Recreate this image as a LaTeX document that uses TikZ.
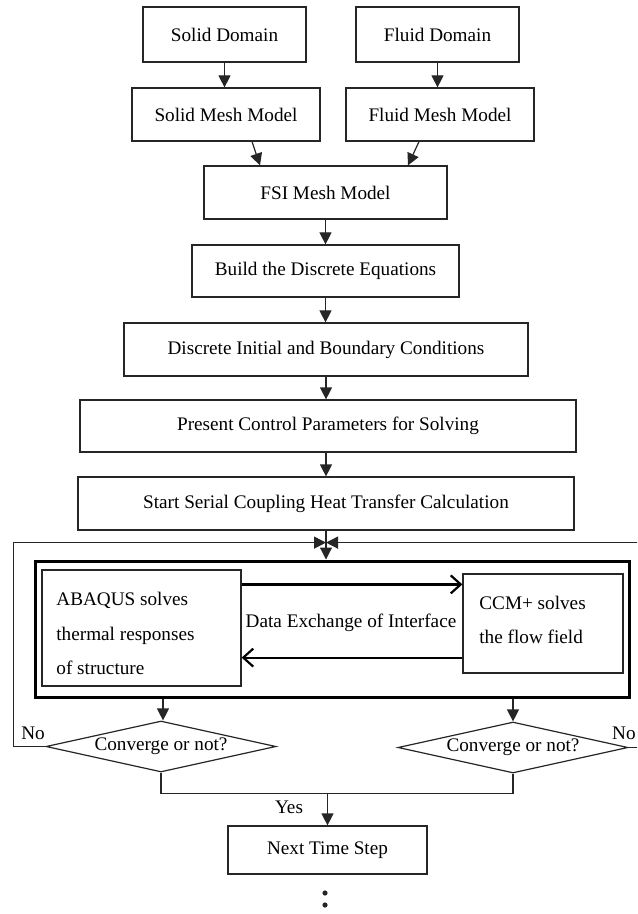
\documentclass[tikz,border=0pt]{standalone}
\usepackage{fontspec}
\setmainfont{Liberation Serif}
\usetikzlibrary{arrows.meta,shapes.geometric,calc}
\begin{document}
\begin{tikzpicture}[x=0.5pt,y=-0.5pt,
  txt/.style={font=\fontsize{9.6}{11.5}\selectfont, inner sep=0pt},
  bx/.style={txt, draw=black!85, line width=0.6pt},
  dia/.style={txt, draw=black!85, line width=0.6pt, shape=diamond, aspect=4.5,
    minimum width=115pt, minimum height=25.5pt},
  arr/.style={line width=0.6pt, draw=black!85, -{Triangle[length=6pt,width=6pt]}},
  ln/.style={line width=0.6pt, draw=black!85},
  dx/.style={line width=1.1pt, -{Straight Barb[length=5pt,width=9pt,line width=1.1pt]}}]
\clip (0,0) rectangle (637,914);
\fill[white] (0,0) rectangle (637,914);

\node[bx, minimum width=81.5pt, minimum height=27.5pt] (sd) at (224.5,34.5) {Solid Domain};
\node[bx, minimum width=81.5pt, minimum height=27.5pt] (fd) at (437.5,34.5) {Fluid Domain};
\node[bx, minimum width=94pt, minimum height=26.5pt] (sm) at (226,114.5) {Solid Mesh Model};
\node[bx, minimum width=94pt, minimum height=26.5pt] (fm) at (440,114.5) {Fluid Mesh Model};
\node[bx, minimum width=121.5pt, minimum height=26.5pt] (fsi) at (325.5,192.5) {FSI Mesh Model};
\node[bx, minimum width=133.5pt, minimum height=26pt] (bde) at (325.5,271) {Build the Discrete Equations};
\node[bx, minimum width=202pt, minimum height=26.5pt] (dib) at (326,349.5) {Discrete Initial and Boundary Conditions};
\node[bx, minimum width=248pt, minimum height=26pt] (pcp) at (328,426) {Present Control Parameters for Solving};
\node[bx, minimum width=248pt, minimum height=26.5pt] (ssc) at (326,503.5) {Start Serial Coupling Heat Transfer Calculation};

\node[draw, line width=1.5pt, minimum width=297pt, minimum height=68pt, inner sep=0pt] (cpl) at (332,629) {};
\node[bx, minimum width=99.5pt, minimum height=58pt] (abq) at (141.5,628) {};
\node[bx, minimum width=80pt, minimum height=49.5pt] (ccm) at (543,623.5) {};
\node[txt, font=\fontsize{9.6}{17.25}\selectfont, anchor=west, align=left] (abqt) at (56,633.5) {ABAQUS solves\\thermal responses\\of structure};
\node[txt, font=\fontsize{9.6}{17.25}\selectfont, anchor=west, align=left] (ccmt) at (479,620) {CCM+ solves\\the flow field};
\node[txt] (dex) at (351,623) {Data Exchange of Interface};

\node[dia] (dl) at (161,746.5) {Converge or not?};
\node[dia] (dr) at (513,747.5) {Converge or not?};
\node[bx, minimum width=99.5pt, minimum height=24pt] (nts) at (327.5,850) {Next Time Step};

\node[txt] (nol) at (33,733) {No};
\node[txt, anchor=east] (nor) at (636,733) {No};
\node[txt] (yes) at (289,807) {Yes};

% top part connectors
\draw[arr] (sd.south) -- (sd.south |- sm.north);
\draw[arr] (fd.south) -- (fd.south |- fm.north);
\draw[arr] ($(sm.south)+(26,0)$) -- ($(fsi.north)+(-65.5,0)$);
\draw[arr] ($(fm.south)+(-21,0)$) -- ($(fsi.north)+(82.5,0)$);
\draw[arr] (fsi.south) -- (fsi.south |- bde.north);
\draw[arr] (bde.south) -- (bde.south |- dib.north);
\draw[arr] (dib.south) -- (dib.south |- pcp.north);
\draw[arr] (ssc.north |- pcp.south) -- (ssc.north);

% coupling loop
\path (ssc.south) ++(0,12) coordinate (J);
\draw[ln] (ssc.south) -- (J);
\draw[arr] (J) -- (J |- cpl.north);
\draw[arr] (dl.west) -- ++(-32,0) |- (J);
\draw[arr] (dr.east) -- ++(24,0) |- (J);

% data exchange
\path (abq.north east) ++(0,15) coordinate (dxa);
\path (abq.south east) ++(0,-29) coordinate (dxb);
\draw[dx] (dxa) -- (dxa -| ccm.west);
\draw[dx] (dxb -| ccm.west) -- (dxb);

% to the convergence checks
\path (dl.north) ++(2,0) coordinate (dln);
\draw[arr] (dln |- cpl.south) -- (dln);
\draw[arr] (dr.north |- cpl.south) -- (dr.north);

% merge
\path (dl.south) ++(0,21) coordinate (Ml);
\coordinate (M) at (Ml -| nts.north);
\draw[ln] (dl.south) -- (Ml) -| (dr.south);
\draw[arr] (M) -- (nts.north);

% continuation dots
\fill[black!85] (325,893) circle[radius=1.3pt];
\fill[black!85] (325,905) circle[radius=1.3pt];
\end{tikzpicture}
\end{document}
